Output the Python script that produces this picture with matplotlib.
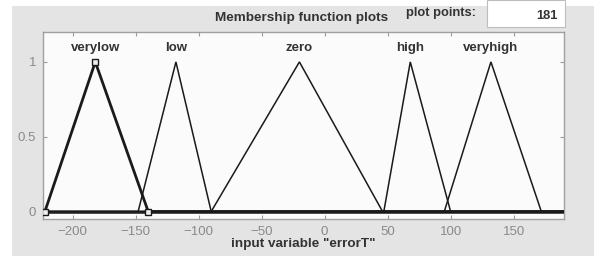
import matplotlib.pyplot as plt
from matplotlib.patches import Rectangle

plt.rcParams['font.family'] = ['Liberation Sans', 'DejaVu Sans']

# membership functions of input "errorT" (triangles: left foot, peak, right foot)
mf_names = ['verylow', 'low', 'zero', 'high', 'veryhigh']
mf_left = [-222, -148, -90, 47, 95]
mf_peak = [-182, -118, -20, 68, 132]
mf_right = [-140, -90, 46, 100, 172]
selected = 'verylow'

x_range = (-222, 190)
x_ticks = [-200, -150, -100, -50, 0, 50, 100, 150]
y_ticks = [0, 0.5, 1]
n_points = 181

W, H = 594, 256
fig = plt.figure(figsize=(W / 100, H / 100), dpi=100, facecolor='white')

# grey panel like the matlab gui
fig.patches.append(Rectangle((12 / W, 0), 1 - 12 / W, 1 - 6 / H, transform=fig.transFigure,
                             facecolor='#e4e4e4', edgecolor='none', zorder=0))
# plot points box
fig.patches.append(Rectangle((487 / W, 1 - 27 / H), 78 / W, 27 / H, transform=fig.transFigure,
                             facecolor='white', edgecolor='#bdbdbd', lw=0.8, zorder=1))

ax = fig.add_axes([43 / W, 1 - 219 / H, (564 - 43) / W, (219 - 32) / H])
ax.set_zorder(5)
ax.set_facecolor('#fbfbfb')

for name, a, b, c in zip(mf_names, mf_left, mf_peak, mf_right):
    lw = 2.0 if name == selected else 1.1
    ax.plot([x_range[0], a, b, c, x_range[1]], [0, 0, 1, 0, 0], color='#1a1a1a', lw=lw,
            solid_joinstyle='miter', zorder=3)
    ax.text(b, 1.075, name, ha='center', va='baseline', fontsize=9.5, color='#333333',
            fontweight='bold')
    if name == selected:
        ax.plot([a, b, c], [0, 1, 0], ls='none', marker='s', ms=5, mfc='#f0f0f0',
                mec='#1a1a1a', mew=1.0, zorder=4)

ax.axhline(0, color='#3a3a3a', lw=2.0, zorder=2)

ax.set_xlim(-223.5, 190)
ax.set_ylim(-0.05, 1.2)
ax.set_xticks(x_ticks)
ax.set_yticks(y_ticks)
ax.set_yticklabels(['0', '0.5', '1'])
ax.tick_params(direction='in', length=3, width=0.8, colors='#9a9a9a', labelcolor='#8a8a8a',
               labelsize=9.5, top=True, right=True, pad=5)
for s in ax.spines.values():
    s.set_color('#a0a0a0')
    s.set_linewidth(1.0)

ax.set_xlabel('input variable "errorT"', fontsize=9.7, color='#333333', fontweight='bold',
              labelpad=0)

fig.text(302 / W, 1 - 18 / H, 'Membership function plots', ha='center', va='center',
         fontsize=9.7, color='#333333', fontweight='bold')
fig.text(441 / W, 1 - 13 / H, 'plot points:', ha='center', va='center',
         fontsize=9.3, color='#333333', fontweight='bold')
fig.text(558 / W, 1 - 16 / H, str(n_points), ha='right', va='center',
         fontsize=9.3, color='#333333', fontweight='bold')

fig.savefig('out.png', dpi=100, facecolor=fig.get_facecolor())
